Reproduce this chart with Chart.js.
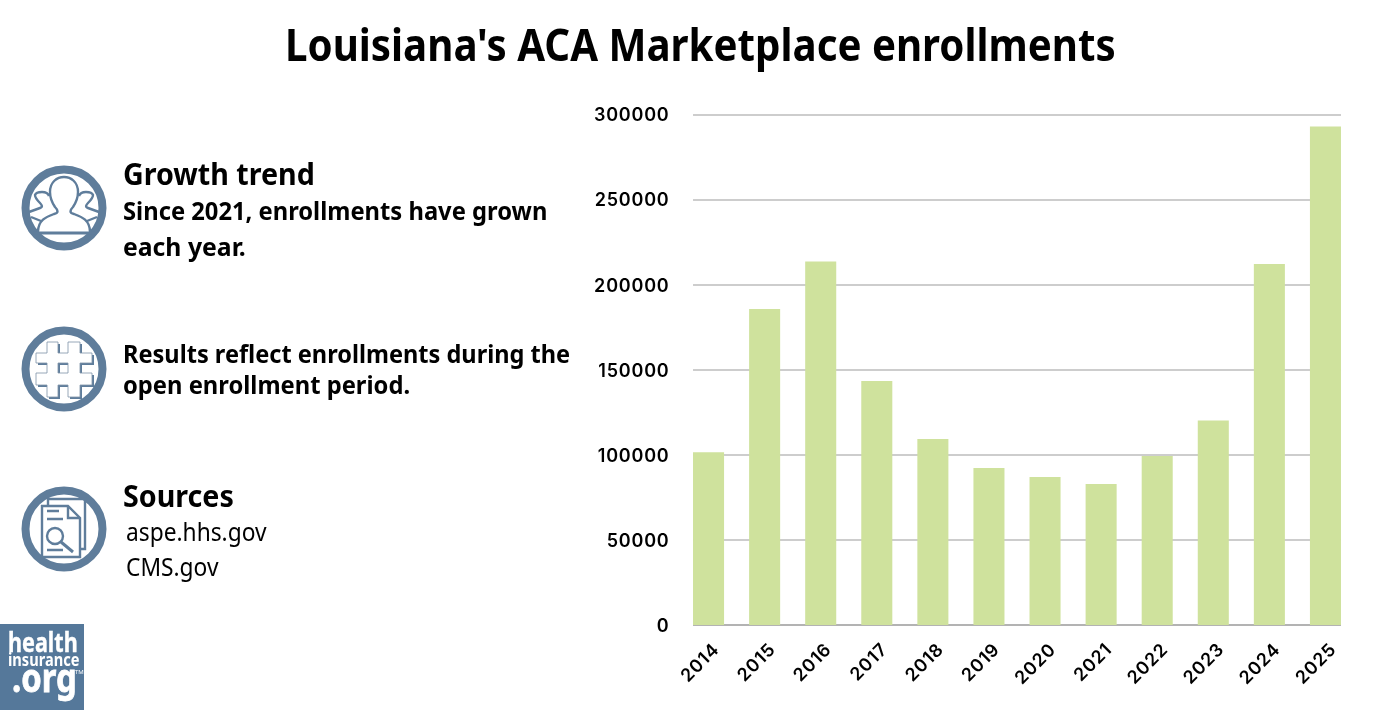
<!DOCTYPE html>
<html><head><meta charset="utf-8">
<style>
html,body{margin:0;padding:0;background:#fff;width:1400px;height:710px;overflow:hidden}
#wrap{position:absolute;left:0;top:0;width:1400px;height:710px}
.t{position:absolute;font-family:"Noto Sans","Open Sans",sans-serif;color:#000;white-space:nowrap;transform-origin:left top}
.h{font-weight:700;font-size:30px;transform:scaleX(.955)}
.b{font-weight:700;font-size:25px;transform:scaleX(.95)}
.r{font-weight:400;font-size:25px;transform:scaleX(.91)}
#title{left:285px;top:14px;font-weight:700;font-size:44px;transform:scaleX(.915)}
svg{position:absolute}
#logo{position:absolute;left:0;top:624px;width:84px;height:86px;background:#55789a;color:#fff;font-family:"Noto Sans",sans-serif;font-weight:700;text-align:center}
#logo div{position:absolute;white-space:nowrap;transform-origin:left top}
</style></head><body>
<div id="wrap"><canvas id="c" width="1400" height="710"></canvas></div>

<div id="title" class="t">Louisiana's ACA Marketplace enrollments</div>

<svg style="left:21px;top:165px" width="86" height="86" viewBox="0 0 86 86" fill="none" stroke="#5f7d9b" stroke-width="2.4">
<circle cx="43" cy="43" r="38.5" stroke-width="8"/>
<path d="M12 68H74" stroke-width="3"/>
<path d="M17 67C17 55 25 52 33 49C38 48 37 45 34 42C30 36 29 30 29 27C29 17 36 12 43 12C50 12 57 17 57 27C57 30 56 36 52 42C49 45 48 48 53 49C61 52 69 55 69 67"/>
<path d="M8 47L19 43C22 42 21 40 19 38C15 34 14 32 14 30C15 27 18 27 21 27C24 27 27 28 28 31"/>
<path d="M78 47L67 43C64 42 65 40 67 38C71 34 72 32 72 30C71 27 68 27 65 27C62 27 59 28 58 31"/>
<path d="M10 52L20 56M76 52L66 56"/>
</svg>

<svg style="left:21px;top:326px" width="86" height="86" viewBox="0 0 86 86">
<circle cx="43" cy="43" r="38.5" fill="#fff" stroke="#5f7d9b" stroke-width="8"/>
<path fill-rule="evenodd" transform="translate(2 2)" fill="#5f7d9b" d="M26 16H37V27H47V16H59V27H71V37H59V47H71V59H59V71H47V59H37V71H26V59H15V47H26V37H15V27H26ZM37 37H47V47H37Z"/>
<path fill-rule="evenodd" fill="#fff" stroke="#7f93a7" stroke-width=".8" d="M26 16H37V27H47V16H59V27H71V37H59V47H71V59H59V71H47V59H37V71H26V59H15V47H26V37H15V27H26ZM37 37H47V47H37Z"/>
</svg>

<svg style="left:21px;top:486px" width="86" height="86" viewBox="0 0 86 86" fill="none" stroke="#5f7d9b" stroke-width="2.4">
<circle cx="43" cy="43" r="38.5" stroke-width="8"/>
<path d="M27 20V13H64V63H59"/>
<path d="M21 20H47L59 32V71H21Z"/>
<path d="M47 20V32H59"/>
<path d="M26 25H38M26 33H42M26 64H42"/>
<circle cx="34" cy="50" r="8"/>
<path d="M40 56L52 66" stroke-width="3"/>
</svg>

<div class="t h" style="left:123px;top:153px">Growth trend</div>
<div class="t b" style="left:123px;top:193px">Since 2021, enrollments have grown</div>
<div class="t b" style="left:123px;top:229px;transform:scaleX(.99)">each year.</div>
<div class="t b" style="left:123px;top:336px;transform:scaleX(.942)">Results reflect enrollments during the</div>
<div class="t b" style="left:123px;top:367px">open enrollment period.</div>
<div class="t h" style="left:123px;top:475px">Sources</div>
<div class="t r" style="left:126px;top:514px">aspe.hhs.gov</div>
<div class="t r" style="left:126px;top:549px">CMS.gov</div>

<div id="logo">
<div style="left:8px;top:1px;font-size:27px;line-height:34px;transform:scaleX(.8);-webkit-text-stroke:.4px #fff">health</div>
<div style="left:8px;top:25px;font-size:17px;line-height:22px;transform:scaleX(.86)">insurance</div>
<div style="left:12px;top:30px;font-size:40px;line-height:46px;transform:scaleX(.82);-webkit-text-stroke:.8px #fff">.org</div>
<div style="left:75px;top:44px;font-size:6px;line-height:8px;font-weight:400">TM</div>
</div>

<script src="https://cdn.jsdelivr.net/npm/chart.js@4/dist/chart.umd.min.js"></script>
<script>
const years = ['2014','2015','2016','2017','2018','2019','2020','2021','2022','2023','2024','2025'];
const enrollments = [101500,185700,213600,143400,109300,92300,87000,82900,99300,120200,212100,292900];
const yMax = 300000;
const yStep = 50000;

const tickSpacing = {
  id:'tickSpacing',
  beforeDraw(chart){ chart.ctx.letterSpacing='0.8px'; },
  afterDraw(chart){ chart.ctx.letterSpacing='0px'; }
};
const shortGrid = {
  id:'shortGrid',
  beforeDatasetsDraw(chart){
    const {ctx,scales:{x,y}} = chart;
    const half = x.getPixelForValue(0)-chart.chartArea.left;
    const barHalf = half*31/56;
    const l = x.getPixelForValue(0)-barHalf, r = x.getPixelForValue(years.length-1)+barHalf;
    ctx.save();
    y.ticks.forEach(t=>{
      const p = Math.round(y.getPixelForValue(t.value));
      ctx.strokeStyle = t.value===0 ? '#9a9a9a' : '#bdbdbd';
      ctx.lineWidth = 1.5;
      ctx.beginPath();ctx.moveTo(l,p);ctx.lineTo(r,p);ctx.stroke();
    });
    ctx.restore();
  }
};
new Chart(document.getElementById('c'),{
  type:'bar',
  data:{labels:years,datasets:[{data:enrollments,backgroundColor:'#cfe29d',borderWidth:0,categoryPercentage:1,barPercentage:31/56}]},
  plugins:[tickSpacing,shortGrid],
  options:{
    responsive:false,animation:false,
    layout:{padding:{left:0,right:46.5,top:114.5,bottom:0}},
    plugins:{legend:{display:false},tooltip:{enabled:false},title:{display:false}},
    scales:{
      x:{
        grid:{display:false},border:{display:false},
        afterFit(s){s.height=85;},
        ticks:{color:'#000',maxRotation:45,minRotation:45,padding:6,labelOffset:8,autoSkip:false,font:{family:'Inter',size:18,weight:'600'}}
      },
      y:{
        min:0,max:yMax,
        grid:{display:false},border:{display:false},
        afterFit(s){s.width=680.5;},
        ticks:{stepSize:yStep,color:'#000',padding:3,labelOffset:1.5,font:{family:'Inter',size:18,weight:'600'},callback:v=>String(v)}
      }
    }
  }
});
</script>
</body></html>
